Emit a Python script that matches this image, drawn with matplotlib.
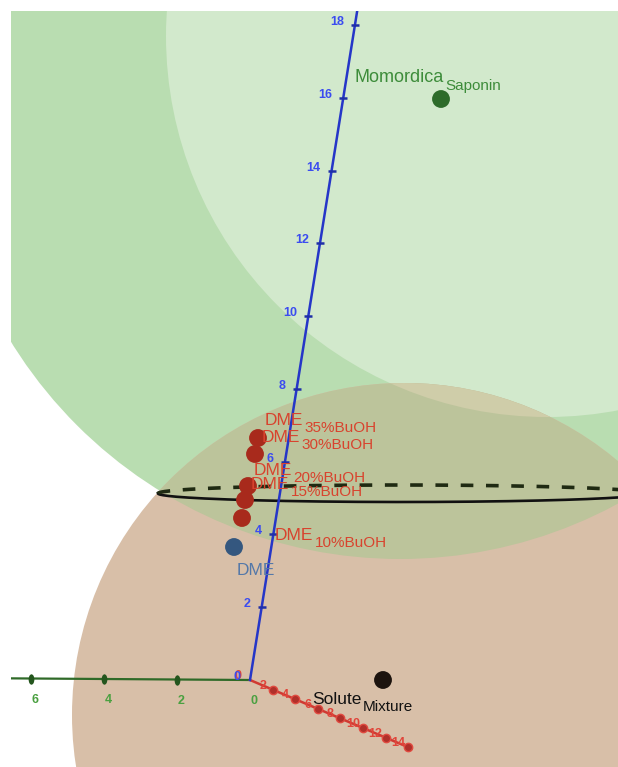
import numpy as np
import matplotlib
matplotlib.use("Agg")
import matplotlib.pyplot as plt
from matplotlib.patches import Circle
from matplotlib.path import Path
from matplotlib.transforms import Affine2D

plt.rcParams['font.family'] = ['Liberation Sans', 'DejaVu Sans']

# ---------------- data (projected view of the 3D Hansen space, pixels) ----------------
axis_origin = (250.0, 680.0)
blue_axis_ticks = [0, 2, 4, 6, 8, 10, 12, 14, 16, 18]
green_axis_ticks = [0, 2, 4, 6]
red_axis_ticks = [0, 2, 4, 6, 8, 10, 12, 14]
# screen direction of one unit along each axis
blue_unit = (5.83, -36.39)
green_unit = (-36.5, -0.25)
red_unit = (11.3, 4.8)

# points (solute, solvents)
point_names = ["Momordica", "Solute", "DME", "DME", "DME", "DME", "DME", "DME"]
point_subs = ["Saponin", "Mixture", "", "10%BuOH", "15%BuOH", "20%BuOH", "30%BuOH", "35%BuOH"]
point_x = [441, 383, 234, 242, 245, 248, 255, 258]
point_y = [99, 680, 547, 518, 500, 486, 454, 438]

# spheres as seen on screen: centre x, centre y, radius
sphere_cx = [400, 547, 404]
sphere_cy = [102, 36, 715]
sphere_r = [457, 381, 332]

# intersection circle of the two spheres (projected ellipse)
ring_cx, ring_cy, ring_a, ring_b = 402, 493.5, 244, 8.5

# ---------------- styles ----------------
point_colors = ['#2d6b2a', '#1c130e', '#34577f', '#a82a1c', '#a82a1c', '#a82a1c', '#a82a1c', '#a82a1c']
label_colors = ['#3d8c3a', '#111111', '#5478a8', '#d8432e', '#d8432e', '#d8432e', '#d8432e', '#d8432e']
label_offsets = [(-86, -17), (-71, 24), (3, 28), (33, 22), (6, -11), (6, -11), (7, -12), (7, -13)]
label_sizes = [13, 12.5, 12.5, 12.5, 12.5, 12.5, 12.5, 12.5]

W, H = 618, 767
fig = plt.figure(figsize=(W / 100, H / 100), dpi=100)
ax = fig.add_axes([11 / W, 0, (W - 11) / W, (H - 11) / H])
ax.set_xlim(11, W)
ax.set_ylim(H, 11)
ax.axis('off')

c_big, c_light, c_brown = '#b9ddb1', '#d2e9cc', '#d8bfa8'
c_olive, c_light_olive = '#bcc49b', '#cfcda9'

big = Circle((sphere_cx[0], sphere_cy[0]), sphere_r[0], fc=c_big, ec='none', zorder=0)
light = Circle((sphere_cx[1], sphere_cy[1]), sphere_r[1], fc=c_light, ec='none', zorder=0.1)
brown = Circle((sphere_cx[2], sphere_cy[2]), sphere_r[2], fc=c_brown, ec='none', zorder=0.2)
for p in (big, light, brown):
    ax.add_patch(p)
olive = Circle((sphere_cx[0], sphere_cy[0]), sphere_r[0], fc=c_olive, ec='none', zorder=0.3)
ax.add_patch(olive)
olive.set_clip_path(brown)
light_olive = Circle((sphere_cx[1], sphere_cy[1]), sphere_r[1], fc=c_light_olive, ec='none', zorder=0.4)
ax.add_patch(light_olive)
light_olive.set_clip_path(brown)

# intersection ring: front solid, back dashed
th_front = np.linspace(0, np.pi, 200)
th_back = np.linspace(np.pi, 2 * np.pi, 200)
ax.plot(ring_cx + ring_a * np.cos(th_front), ring_cy + ring_b * np.sin(th_front),
        color='#111111', lw=1.9, zorder=2)
ax.plot(ring_cx + ring_a * np.cos(th_back), ring_cy + ring_b * np.sin(th_back),
        color='#1f2a12', lw=2.6, ls=(0, (3.5, 3.5)), zorder=2)

ox, oy = axis_origin


def along(unit, v):
    v = np.asarray(v, dtype=float)
    return ox + unit[0] * v, oy + unit[1] * v


ellipse_marker = Path.unit_circle().transformed(Affine2D().scale(0.55, 1.0))

# green axis
gx, gy = along(green_unit, [0, 7.2])
ax.plot(gx, gy, color='#2f6a28', lw=1.6, zorder=3)
tx, ty = along(green_unit, green_axis_ticks[1:])
ax.plot(tx, ty, ls='none', marker=ellipse_marker, ms=7.5, mew=0, color='#24561e', zorder=3.1)
for v in green_axis_ticks:
    x, y = along(green_unit, v)
    ax.text(x + 4, y + 21, str(v), color='#4aa040', fontsize=9, fontweight='bold',
            ha='center', va='center', zorder=5)

# red axis
rx, ry = along(red_unit, [0, 14.3])
ax.plot(rx, ry, color='#d03a32', lw=1.8, zorder=3)
tx, ty = along(red_unit, red_axis_ticks[1:])
ax.plot(tx, ty, ls='none', marker='o', ms=6, mfc='#b0302a', mec='#e04a40', mew=1.0, zorder=3.1)
for v in red_axis_ticks:
    x, y = along(red_unit, v)
    dx = -10 if v else -12
    ax.text(x + dx, y - 4, str(v), color='#e0453a', fontsize=9, fontweight='bold',
            ha='center', va='center', zorder=5)

# blue axis
bx, by = along(blue_unit, [0, 19.0])
ax.plot(bx, by, color='#2536c8', lw=1.8, zorder=3.2)
tx, ty = along(blue_unit, blue_axis_ticks[1:])
ax.plot(tx, ty, ls='none', marker='_', ms=6, mew=1.8, color='#1f2fa8', zorder=3.3)
for v in blue_axis_ticks:
    x, y = along(blue_unit, v)
    dx = -11 if v else -10
    ax.text(x + dx, y - 3, str(v), color='#3b4cf0', fontsize=9, fontweight='bold',
            ha='right', va='center', zorder=5)

# points
ax.scatter(point_x, point_y, s=165, c=point_colors, edgecolors='none', zorder=4)

# labels with subscripts
for name, sub, x, y, col, off, fs in zip(point_names, point_subs, point_x, point_y,
                                         label_colors, label_offsets, label_sizes):
    t = ax.text(x + off[0], y + off[1], name, color=col, fontsize=fs,
                ha='left', va='baseline', zorder=6)
    if sub:
        ax.annotate(sub, xy=(1, 0), xycoords=t, xytext=(0.8, -3.0),
                    textcoords='offset points', color=col, fontsize=11,
                    ha='left', va='baseline', zorder=6)

fig.savefig('out.png', dpi=100, facecolor='white')
